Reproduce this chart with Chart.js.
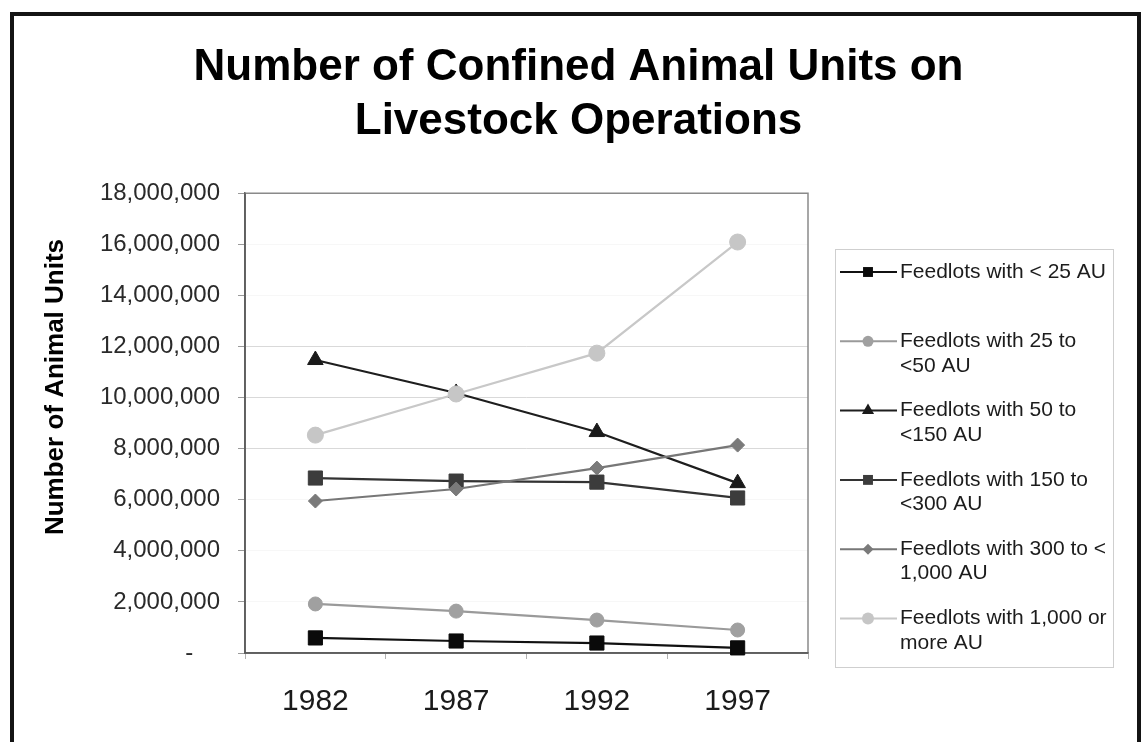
<!DOCTYPE html>
<html><head><meta charset="utf-8">
<script src="https://cdn.jsdelivr.net/npm/chart.js@4.4.0/dist/chart.umd.min.js"></script>
<style>html,body{margin:0;padding:0;background:#fff;overflow:hidden}#wrap{width:1147px;height:742px;position:relative}</style>
</head><body><div id="wrap"><canvas id="c" width="1147" height="742"></canvas></div>
<script>
const categories = ['1982', '1987', '1992', '1997'];
const titleLines = ['Number of Confined Animal Units on', 'Livestock Operations'];
const yAxisTitle = 'Number of Animal Units';
const seriesLegendLines = [
  ['Feedlots with < 25 AU'],
  ['Feedlots with 25 to', '<50 AU'],
  ['Feedlots with 50 to', '<150 AU'],
  ['Feedlots with 150 to', '<300 AU'],
  ['Feedlots with 300 to <', '1,000 AU'],
  ['Feedlots with 1,000 or', 'more AU']
];
const feedlotsUnder25 = [590000, 470000, 390000, 200000];
const feedlots25to50 = [1920000, 1640000, 1290000, 900000];
const feedlots50to150 = [11470000, 10180000, 8650000, 6650000];
const feedlots150to300 = [6850000, 6730000, 6690000, 6070000];
const feedlots300to1000 = [5950000, 6420000, 7240000, 8140000];
const feedlots1000plus = [8530000, 10140000, 11740000, 16090000];
const yMin = 0, yMax = 18000000, yStep = 2000000;

const FONT = "'Liberation Sans', Arial, Helvetica, sans-serif";
const seriesValues = [feedlotsUnder25, feedlots25to50, feedlots50to150, feedlots150to300, feedlots300to1000, feedlots1000plus];
const styles = [
  {line: '#111111', fill: '#0a0a0a', point: 'rect', r: 10, lr: 7},
  {line: '#9a9a9a', fill: '#a0a0a0', point: 'circle', r: 7, lr: 5.5},
  {line: '#1e1e1e', fill: '#1a1a1a', point: 'triangle', r: 9, lr: 7},
  {line: '#333333', fill: '#3c3c3c', point: 'rect', r: 10, lr: 7},
  {line: '#777777', fill: '#7a7a7a', point: 'rectRot', r: 7, lr: 5.5},
  {line: '#c8c8c8', fill: '#c6c6c6', point: 'circle', r: 8, lr: 6}
];

const datasets = seriesValues.map((vals, i) => ({
  label: seriesLegendLines[i].join(' '),
  data: vals,
  yAxisID: 'y',
  borderColor: styles[i].line,
  backgroundColor: styles[i].fill,
  pointBackgroundColor: styles[i].fill,
  pointBorderColor: styles[i].fill,
  pointBorderWidth: 1,
  pointStyle: styles[i].point,
  pointRadius: styles[i].r,
  borderWidth: 2.2,
  tension: 0,
  clip: 12,
  order: seriesValues.length - i
}));

function marker(c, style, r, x, y) {
  c.beginPath();
  if (style === 'circle') {
    c.arc(x, y, r, 0, Math.PI * 2);
  } else if (style === 'rect') {
    const s = Math.SQRT1_2 * r;
    c.rect(x - s, y - s, 2 * s, 2 * s);
  } else if (style === 'triangle') {
    c.moveTo(x, y - r);
    c.lineTo(x + r * 0.866, y + r * 0.5);
    c.lineTo(x - r * 0.866, y + r * 0.5);
    c.closePath();
  } else if (style === 'rectRot') {
    c.moveTo(x, y - r); c.lineTo(x + r, y); c.lineTo(x, y + r); c.lineTo(x - r, y); c.closePath();
  }
  c.fill();
}

const decor = {
  id: 'decor',
  beforeDraw(chart) {
    const c = chart.ctx;
    c.save();
    c.fillStyle = '#fff';
    c.fillRect(0, 0, chart.width, chart.height);
    c.strokeStyle = '#141414';
    c.lineWidth = 4;
    c.strokeRect(12, 14, 1127, 800);
    c.restore();
  },
  beforeDatasetsDraw(chart) {
    const a = chart.chartArea, c = chart.ctx;
    c.save();
    c.strokeStyle = '#8a8a8a';
    c.lineWidth = 1.5;
    c.strokeRect(a.left, a.top, a.right - a.left, a.bottom - a.top);
    c.strokeStyle = '#555';
    c.beginPath();
    c.moveTo(a.left, a.top); c.lineTo(a.left, a.bottom); c.lineTo(a.right, a.bottom);
    c.stroke();
    c.restore();
  },
  afterDraw(chart) {
    const c = chart.ctx, a = chart.chartArea;
    // y axis title
    c.save();
    c.translate(56, 387);
    c.rotate(-Math.PI / 2);
    c.font = 'bold 26px ' + FONT;
    c.fillStyle = '#000';
    c.textAlign = 'center';
    c.textBaseline = 'middle';
    c.fillText(yAxisTitle, 0, 0);
    c.restore();
    // legend
    const lx0 = a.right + 27, ly0 = 249, lx1 = 1113, ly1 = 667;
    c.save();
    c.strokeStyle = '#cfcfcf';
    c.lineWidth = 1;
    c.strokeRect(lx0 + 0.5, ly0 + 0.5, lx1 - lx0, ly1 - ly0);
    c.font = '21px ' + FONT;
    c.textBaseline = 'middle';
    c.textAlign = 'left';
    chart.data.datasets.forEach((ds, i) => {
      const y = 272 + i * 69.3;
      c.strokeStyle = ds.borderColor;
      c.lineWidth = 2;
      c.beginPath(); c.moveTo(lx0 + 5, y); c.lineTo(lx0 + 62, y); c.stroke();
      c.fillStyle = ds.pointBackgroundColor;
      marker(c, ds.pointStyle, styles[i].lr, lx0 + 33, y);
      c.fillStyle = '#1c1c1c';
      seriesLegendLines[i].forEach((t, j) => c.fillText(t, lx0 + 65, y + j * 24.5));
    });
    c.restore();
  }
};

const showGrid = [8000000, 10000000, 12000000];

new Chart(document.getElementById('c'), {
  type: 'line',
  data: {labels: categories, datasets},
  plugins: [decor],
  options: {
    responsive: false,
    devicePixelRatio: 1,
    animation: false,
    layout: {padding: {top: 0, left: 10, right: 0, bottom: 0}},
    plugins: {
      legend: {display: false},
      tooltip: {enabled: false},
      title: {
        display: true,
        text: titleLines,
        color: '#000',
        font: {family: FONT, size: 44, weight: 'bold', lineHeight: 1.23},
        padding: {top: 41, bottom: 44}
      }
    },
    scales: {
      x: {
        offset: true,
        grid: {display: true, offset: true, color: 'rgba(0,0,0,0)', tickColor: '#b0b0b0', tickLength: 6, drawOnChartArea: false},
        border: {display: true, color: '#555', width: 1.5},
        ticks: {color: '#1a1a1a', font: {family: FONT, size: 30}, padding: 25},
        afterFit(s) { s.height = 89; }
      },
      y: {
        min: yMin, max: yMax,
        grid: {
          color: (ctx) => ctx.tick && showGrid.includes(ctx.tick.value) ? '#d9d9d9' : 'rgba(0,0,0,0.03)',
          tickColor: '#9a9a9a', tickLength: 7, lineWidth: 1
        },
        border: {display: true, color: '#555', width: 1.5},
        ticks: {
          stepSize: yStep,
          color: '#2a2a2a',
          font: {family: FONT, size: 24},
          padding: 18,
          callback: (v) => v === 0 ? '-    ' : Number(v).toLocaleString('en-US')
        },
        afterFit(s) { s.width = 235; }
      },
      legendSpace: {
        type: 'linear',
        position: 'right',
        display: true,
        grid: {display: false, drawTicks: false},
        border: {display: false},
        ticks: {display: false},
        afterFit(s) { s.width = 339; }
      }
    }
  }
});
</script>
</body></html>
